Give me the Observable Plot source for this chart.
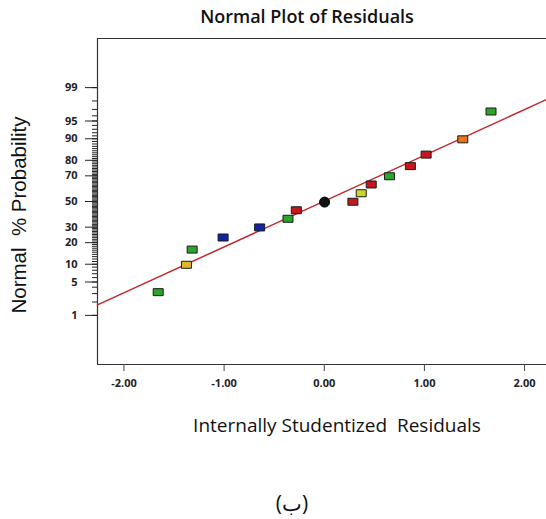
<!DOCTYPE html>
<html><head><meta charset="utf-8">
<script src="https://cdn.jsdelivr.net/npm/d3@7"></script>
<script src="https://cdn.jsdelivr.net/npm/@observablehq/plot@0.6"></script>
<style>
body{margin:0;background:#fff;width:546px;height:519px;overflow:hidden;position:relative;font-family:"Open Sans",sans-serif;}
#chart{position:absolute;left:0;top:0;}
#title{position:absolute;left:0;top:4px;width:614px;text-align:center;font-size:18px;font-weight:600;color:#111;line-height:24px;}
#xlabel{position:absolute;left:0;top:412px;width:674px;text-align:center;font-size:19px;color:#111;line-height:26px;white-space:pre;}
#ylabel{position:absolute;left:19px;top:215px;transform:translate(-50%,-50%) rotate(-90deg);font-family:"Liberation Sans",Arial,sans-serif;font-size:20.5px;color:#111;white-space:pre;line-height:22px;}
#caption{position:absolute;left:0;top:489px;width:584px;text-align:center;font-size:21px;color:#111;line-height:28px;}
</style></head><body>
<div id="chart"></div>
<div id="title">Normal Plot of Residuals</div>
<div id="xlabel">Internally Studentized  Residuals</div>
<div id="ylabel">Normal  % Probability</div>
<div id="caption">(ب)</div>
<script>
// ---- data ----
const residuals   = [-1.658, -1.376, -1.319, -1.010, -0.645, -0.362, -0.279, 0.003, 0.286, 0.369, 0.469, 0.651, 0.860, 1.017, 1.383, 1.665];
const probability = [3.2, 9.8, 16.3, 23.1, 29.8, 36.2, 42.9, 49.5, 49.8, 56.7, 63.6, 69.7, 76.5, 83.1, 89.8, 96.7];
const level       = ["L2","L4","L2","L1","L1","L2","L6","L0","L6","L3","L6","L2","L6","L6","L5","L2"];
const levelNames  = ["L0","L1","L2","L3","L4","L5","L6"];
const levelColors = ["#111111","#1423a6","#2aa52c","#ccd62e","#dcb82a","#e8741e","#c4161c"];
const majorTicks  = [1, 5, 10, 20, 30, 50, 70, 80, 90, 95, 99];
const minorTicks  = d3.range(1, 100);
const xTicks      = [-2, -1, 0, 1, 2];
const fitResidual    = [-2.264, 2.219];
const fitProbability = [1.74, 98.14];
const xDomain = [-2.264, 2.219];
const zDomain = [-3.33, 3.33];

// inverse normal CDF (Acklam)
function probit(p){
  const a=[-3.969683028665376e+01,2.209460984245205e+02,-2.759285104469687e+02,1.383577518672690e+02,-3.066479806614716e+01,2.506628277459239e+00];
  const b=[-5.447609879822406e+01,1.615858368580409e+02,-1.556989798598866e+02,6.680131188771972e+01,-1.328068155288572e+01];
  const c=[-7.784894002430293e-03,-3.223964580411365e-01,-2.400758277161838e+00,-2.549732539343734e+00,4.374664141464968e+00,2.938163982698783e+00];
  const d=[7.784695709041462e-03,3.224671290700398e-01,2.445134137142996e+00,3.754408661907416e+00];
  const pl=0.02425, ph=1-pl; let q, r;
  if (p < pl) { q=Math.sqrt(-2*Math.log(p)); return (((((c[0]*q+c[1])*q+c[2])*q+c[3])*q+c[4])*q+c[5])/((((d[0]*q+d[1])*q+d[2])*q+d[3])*q+1); }
  if (p <= ph) { q=p-0.5; r=q*q; return (((((a[0]*r+a[1])*r+a[2])*r+a[3])*r+a[4])*r+a[5])*q/(((((b[0]*r+b[1])*r+b[2])*r+b[3])*r+b[4])*r+1); }
  q=Math.sqrt(-2*Math.log(1-p)); return -(((((c[0]*q+c[1])*q+c[2])*q+c[3])*q+c[4])*q+c[5])/((((d[0]*q+d[1])*q+d[2])*q+d[3])*q+1);
}

const points = residuals.map((r, i) => ({r, z: probit(probability[i]/100), level: level[i]}));
const fit = fitResidual.map((r, i) => ({r, z: probit(fitProbability[i]/100)}));
const zMajor = majorTicks.map(p => probit(p/100));
const zMinor = minorTicks.map(p => probit(p/100));
const majorLabel = new Map(zMajor.map((z, i) => [z, String(majorTicks[i])]));

const rectSymbol = {draw(ctx){ ctx.moveTo(-5,-3.5); ctx.lineTo(5,-3.5); ctx.lineTo(5,3.5); ctx.lineTo(-5,3.5); ctx.closePath(); }};
const ovalSymbol = {draw(ctx){ ctx.moveTo(5,0); ctx.arc(0,0,5,0,2*Math.PI); }};

const chart = Plot.plot({
  width: 546, height: 400,
  marginTop: 38, marginBottom: 36, marginLeft: 97, marginRight: 0,
  style: {fontFamily: "'Open Sans', sans-serif", background: "#fff", overflow: "visible"},
  x: {domain: xDomain, label: null},
  y: {domain: zDomain, label: null},
  color: {domain: levelNames, range: levelColors},
  marks: [
    Plot.ruleX([xDomain[0]], {stroke: "#333", strokeWidth: 1.2}),
    Plot.ruleY(zDomain, {stroke: "#333", strokeWidth: 1.2}),
    Plot.axisY(zMinor, {tickSize: 5, tickFormat: () => "", stroke: "#222", label: null}),
    Plot.axisY(zMajor, {tickSize: 12, tickPadding: 8, tickFormat: z => majorLabel.get(z), stroke: "#222", fill: "#222", fontSize: 11, fontWeight: "bold", label: null}),
    Plot.axisX(xTicks, {tickSize: 7, tickPadding: 8, tickFormat: d => d.toFixed(2), stroke: "#444", fill: "#222", fontSize: 11, fontWeight: "bold", label: null}),
    Plot.line(fit, {x: "r", y: "z", stroke: "#c0272d", strokeWidth: 1.5}),
    Plot.dot(points.filter(d => d.level !== "L0"), {x: "r", y: "z", fill: "level", stroke: "#1b1b1b", strokeWidth: 1, symbol: rectSymbol}),
    Plot.dot(points.filter(d => d.level === "L0"), {x: "r", y: "z", fill: "level", stroke: "#000", strokeWidth: 1, symbol: ovalSymbol})
  ]
});
document.getElementById("chart").appendChild(chart);
</script>
</body></html>
